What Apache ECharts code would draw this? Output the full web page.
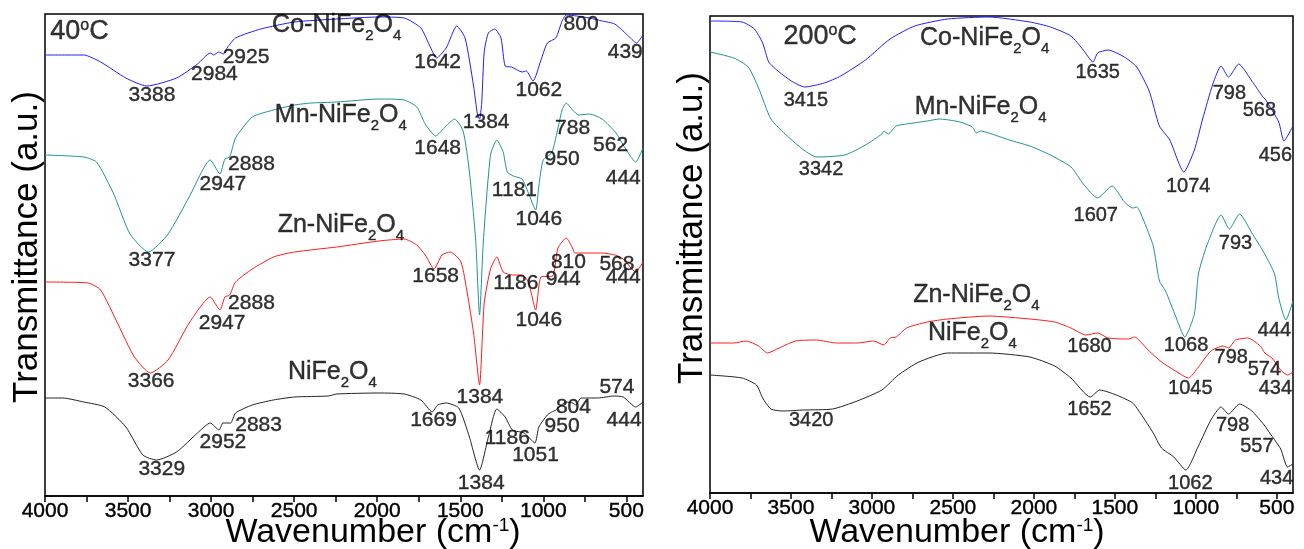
<!DOCTYPE html>
<html>
<head>
<meta charset="utf-8">
<script src="https://cdn.jsdelivr.net/npm/echarts/dist/echarts.min.js"></script>
<style>
html,body{margin:0;padding:0;background:#fff;}
#c{width:1304px;height:549px;}
</style>
</head>
<body>
<div id="c"></div>
<script>
// ---------- tick labels ----------
const tickLabels = [4000, 3500, 3000, 2500, 2000, 1500, 1000, 500];
const tickMarks = [4000, 3750, 3500, 3250, 3000, 2750, 2500, 2250, 2000, 1750, 1500, 1250, 1000, 750, 500];

// ---------- 40 °C spectra [wavenumber, transmittance (a.u.)] ----------
const co40 = [[4000,441],[3767,441],[3665,434],[3513,418],[3388,410],[3208,418],[3082,432],[3005,443],[2984,441],[2955,444],[2925,442],[2904,448],[2853,458],[2701,467],[2498,474],[2244,477],[1990,479],[1838,478],[1737,468],[1686,451],[1642,438],[1585,448],[1521,470],[1471,458],[1420,410],[1397,382],[1384,377],[1371,393],[1356,444],[1331,463],[1293,467],[1255,458],[1230,430],[1192,429],[1128,424],[1103,425],[1062,415],[1014,436],[976,453],[925,458],[887,475],[862,481],[800,480],[722,478],[646,475],[570,472],[494,461],[439,453],[400,461]];
const mn40 = [[4000,341],[3767,339],[3690,334],[3589,303],[3488,262],[3377,244],[3259,262],[3132,299],[3005,336],[2947,322],[2917,337],[2888,339],[2853,358],[2752,379],[2625,386],[2498,391],[2397,393],[2244,394],[1990,397],[1838,396],[1762,389],[1711,372],[1648,360],[1597,368],[1534,377],[1483,365],[1445,324],[1407,255],[1384,181],[1361,255],[1318,341],[1280,356],[1242,344],[1217,324],[1181,320],[1128,317],[1090,303],[1046,286],[1027,310],[1001,336],[950,343],[925,358],[887,386],[862,393],[824,386],[788,381],[722,382],[646,377],[562,363],[519,351],[444,334],[400,348]];
const zn40 = [[4000,214],[3741,213],[3665,206],[3564,173],[3462,139],[3366,123],[3259,136],[3132,173],[3005,199],[2947,186],[2917,199],[2888,201],[2853,214],[2752,227],[2625,239],[2498,244],[2244,249],[1990,255],[1838,257],[1762,251],[1711,241],[1658,227],[1610,241],[1560,244],[1496,234],[1458,203],[1420,163],[1384,111],[1356,193],[1318,227],[1280,239],[1242,224],[1186,221],[1128,221],[1090,214],[1046,186],[1014,219],[944,220],[912,248],[862,258],[824,248],[810,243],[646,243],[568,241],[519,237],[444,224],[400,234]];
const ni40 = [[4000,98],[3893,98],[3767,94],[3640,89],[3513,69],[3411,41],[3329,36],[3208,44],[3082,63],[3005,73],[2952,66],[2929,73],[2883,73],[2853,83],[2752,91],[2625,96],[2498,99],[2295,100],[2244,102],[1990,103],[1838,102],[1737,96],[1669,84],[1636,91],[1585,93],[1509,88],[1445,59],[1384,26],[1331,59],[1280,87],[1230,79],[1186,66],[1115,63],[1051,53],[1027,69],[976,81],[950,84],[925,86],[862,94],[824,93],[804,91],[773,98],[672,98],[574,100],[519,99],[444,89],[400,94]];

// ---------- 200 °C spectra ----------
const co200 = [[4000,472],[3802,471],[3726,464],[3675,450],[3637,431],[3573,421],[3497,412],[3415,406],[3294,410],[3193,417],[3040,433],[2888,454],[2736,467],[2532,474],[2278,476],[2025,471],[1898,466],[1771,457],[1695,443],[1635,431],[1606,440],[1542,443],[1441,436],[1365,426],[1288,402],[1225,367],[1161,353],[1074,321],[1009,343],[958,374],[895,409],[844,427],[798,416],[735,429],[654,412],[590,397],[568,393],[488,371],[456,352],[400,367]];
const mn200 = [[4000,441],[3853,435],[3764,426],[3700,405],[3624,374],[3523,357],[3421,343],[3342,336],[3167,338],[3040,348],[2939,359],[2926,362],[2900,359],[2850,367],[2786,369],[2659,372],[2583,374],[2456,371],[2380,366],[2355,360],[2329,362],[2278,360],[2152,353],[2025,347],[1898,338],[1771,326],[1695,309],[1607,295],[1517,307],[1441,291],[1390,285],[1365,286],[1326,274],[1263,247],[1225,212],[1187,202],[1123,176],[1068,156],[1009,179],[984,219],[933,247],[844,278],[793,264],[730,279],[654,260],[578,240],[514,219],[488,195],[444,173],[400,192]];
const zn200 = [[4000,150],[3853,150],[3777,152],[3700,147],[3645,140],[3573,145],[3472,152],[3345,153],[3218,150],[3091,150],[2990,152],[2926,148],[2888,155],[2850,156],[2786,165],[2659,171],[2532,174],[2278,177],[2025,174],[1872,171],[1771,165],[1680,158],[1606,160],[1542,155],[1415,154],[1377,156],[1352,153],[1288,142],[1212,131],[1136,123],[1045,115],[984,126],[907,142],[831,147],[798,145],[755,153],[679,155],[602,147],[574,140],[530,135],[476,123],[434,118],[400,121]];
const ni200 = [[4000,118],[3802,115],[3713,108],[3675,95],[3624,84],[3548,82],[3420,83],[3243,84],[3091,92],[2939,103],[2837,118],[2710,131],[2532,140],[2278,140],[2025,136],[1872,127],[1771,115],[1652,96],[1593,103],[1491,98],[1390,90],[1339,79],[1263,60],[1212,45],[1136,36],[1062,23],[984,47],[907,73],[844,86],[798,79],[730,89],[654,82],[578,68],[557,63],[476,44],[434,26],[400,29]];

// ---------- annotations [wavenumber, transmittance, text] ----------
const notes40 = [
  [3792,463,'40°C'],
  [2244,468,'Co-NiFe2O4'],[2219,378,'Mn-NiFe2O4'],[2219,268,'Zn-NiFe2O4'],[2270,121,'NiFe2O4'],
  [3356,401,'3388'],[2980,422,'2984'],[2790,439,'2925'],[1636,434,'1642'],[1344,374,'1384'],[1027,406,'1062'],[773,472,'800'],[507,444,'439'],
  [1636,348,'1648'],[2757,332,'2888'],[2929,312,'2947'],[3356,236,'3377'],[824,368,'788'],[595,351,'562'],[887,337,'950'],[1174,306,'1181'],[519,318,'444'],[1027,277,'1046'],
  [1648,220,'1658'],[849,234,'810'],[557,232,'568'],[880,217,'944'],[519,219,'444'],[1166,213,'1186'],[2757,193,'2888'],[2934,173,'2947'],[3361,115,'3366'],[1027,176,'1046'],[1382,99,'1384'],
  [557,109,'574'],[819,89,'804'],[1661,76,'1669'],[2714,71,'2883'],[2929,54,'2952'],[1217,58,'1186'],[887,70,'950'],[514,76,'444'],[1047,41,'1051'],[3297,27,'3329'],[1374,13,'1384']
];
const notes200 = [
  [3320,455,'200°C'],
  [2304,452,'Co-NiFe2O4'],[2329,383,'Mn-NiFe2O4'],[2355,195,'Zn-NiFe2O4'],[2380,157,'NiFe2O4'],
  [3408,393,'3415'],[1606,421,'1635'],[793,400,'798'],[608,383,'568'],[509,338,'456'],[1047,307,'1074'],
  [3314,324,'3342'],[1618,278,'1607'],[755,250,'793'],[514,163,'444'],[1060,148,'1068'],
  [1657,147,'1680'],[781,136,'798'],[577,124,'574'],[509,105,'434'],[1034,105,'1045'],
  [1657,84,'1652'],[3375,73,'3420'],[773,68,'798'],[623,47,'557'],[1034,10,'1062'],[501,15,'434']
];

const FONT = '"Liberation Sans", Arial, sans-serif';
const colors = { co: '#1f1fff', mn: '#1e9490', zn: '#ff1a1a', ni: '#222222' };

function richText(s) {
  if (s.indexOf('Fe2O4') >= 0) {
    return '{m|' + s.replace('Fe2O4', 'Fe') + '}{s|2}{m|O}{s|4}';
  }
  if (s.indexOf('°C') >= 0) {
    return '{t|' + s.replace('°C', '') + '}{u|o}{t|C}';
  }
  return s;
}

const ink = { textBorderColor: '#000', textBorderWidth: 0.4 };
const labelRich = {
  m: Object.assign({ fontSize: 25, lineHeight: 30, fontFamily: FONT, color: '#000', verticalAlign: 'top' }, ink),
  s: Object.assign({ fontSize: 15, lineHeight: 6, fontFamily: FONT, color: '#000', verticalAlign: 'bottom' }, ink),
  t: Object.assign({ fontSize: 27, lineHeight: 30, fontFamily: FONT, color: '#000', verticalAlign: 'top' }, ink),
  u: Object.assign({ fontSize: 16, lineHeight: 8, fontFamily: FONT, color: '#000', verticalAlign: 'top' }, ink)
};

function lineSeries(data, color, idx) {
  return {
    type: 'line', data: data, xAxisIndex: idx, yAxisIndex: idx,
    showSymbol: false, smooth: 0.2, silent: true,
    lineStyle: { color: color, width: 1 }, z: 2
  };
}
function noteSeries(notes, idx, size) {
  return {
    type: 'scatter', xAxisIndex: idx, yAxisIndex: idx, silent: true,
    symbolSize: 0, z: 5,
    data: notes.map(n => ({ value: [n[0], n[1]], name: n[2] })),
    label: Object.assign({
      show: true, position: 'inside', color: '#000', fontSize: size, fontFamily: FONT,
      formatter: p => richText(p.name), rich: labelRich
    }, ink)
  };
}
function xAxisCfg(idx) {
  return {
    type: 'value', gridIndex: idx, min: 400, max: 4000, inverse: true,
    splitLine: { show: false },
    axisLine: { show: true, lineStyle: { color: '#000', width: 1.5 } },
    axisTick: { show: true, inside: false, length: 6, customValues: tickMarks, lineStyle: { color: '#000', width: 1.5 } },
    axisLabel: Object.assign({ show: true, customValues: tickLabels, margin: 5, color: '#000', fontSize: 21, fontFamily: FONT,
      formatter: v => String(v) }, ink)
  };
}
function yAxisCfg(idx, max) {
  return { type: 'value', gridIndex: idx, min: 0, max: max, show: false, splitLine: { show: false } };
}

const titleRich = {
  a: { fontSize: 34, lineHeight: 36, fontFamily: FONT, fill: '#000', verticalAlign: 'top' },
  b: { fontSize: 19, lineHeight: 12, fontFamily: FONT, fill: '#000', verticalAlign: 'top' }
};
function xTitle(x) {
  return { type: 'text', x: x, y: 534, silent: true,
    style: { text: '{a|Wavenumber (cm}{b|-1}{a|)}', rich: titleRich, align: 'center', verticalAlign: 'middle', fill: '#000' } };
}
function yTitle(x, y) {
  return { type: 'text', x: x, y: y, rotation: Math.PI / 2, silent: true,
    style: { text: 'Transmittance (a.u.)', font: '35px ' + FONT, align: 'center', verticalAlign: 'middle', fill: '#000' } };
}

const chart = echarts.init(document.getElementById('c'), null, { renderer: 'canvas' });
chart.setOption({
  backgroundColor: '#fff',
  animation: false,
  grid: [
    { left: 45, top: 14, width: 598, height: 482, show: true, borderColor: '#000', borderWidth: 1.5, backgroundColor: 'transparent' },
    { left: 710, top: 16, width: 583, height: 477, show: true, borderColor: '#000', borderWidth: 1.5, backgroundColor: 'transparent' }
  ],
  xAxis: [xAxisCfg(0), xAxisCfg(1)],
  yAxis: [yAxisCfg(0, 482), yAxisCfg(1, 477)],
  series: [
    lineSeries(co40, colors.co, 0), lineSeries(mn40, colors.mn, 0), lineSeries(zn40, colors.zn, 0), lineSeries(ni40, colors.ni, 0),
    lineSeries(co200, colors.co, 1), lineSeries(mn200, colors.mn, 1), lineSeries(zn200, colors.zn, 1), lineSeries(ni200, colors.ni, 1),
    noteSeries(notes40, 0, 21), noteSeries(notes200, 1, 20)
  ],
  graphic: [xTitle(373), xTitle(957), yTitle(27, 247), yTitle(692, 228)]
});
</script>
</body>
</html>
